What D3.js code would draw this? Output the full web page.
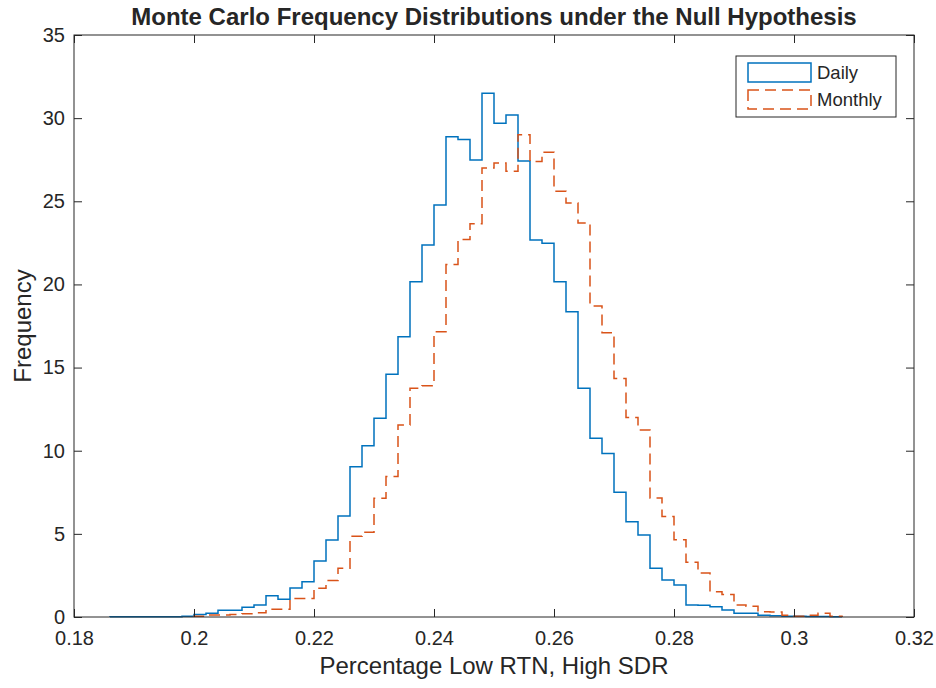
<html>
    <head>
        <script src="https://d3js.org/d3.v7.min.js"></script>
        <style>
            body { margin: 0; background: #fff; }
            text { font-family: "Liberation Sans", Arial, Helvetica, sans-serif; fill: #262626; }
        </style>
    </head>
    <body>
        <div id="svg-area"></div>
        <script>
            // histogram bins (width 0.002)
            const binWidth = 0.002;
            const dailyStart = 0.186;
            const dailyCounts = [0.02, 0.02, 0.02, 0.02, 0.02, 0.02, 0.05, 0.15, 0.22, 0.4,
                                 0.4, 0.58, 0.72, 1.28, 1.06, 1.75, 2.12, 3.37, 4.63, 6.07,
                                 9.04, 10.3, 11.95, 14.6, 16.86, 20.16, 22.37, 24.77, 28.88, 28.72,
                                 27.48, 31.49, 29.69, 30.19, 27.42, 22.67, 22.47, 20.16, 18.36, 13.75,
                                 10.75, 9.84, 7.5, 5.73, 4.93, 2.93, 2.22, 1.92, 0.72, 0.7,
                                 0.62, 0.42, 0.22, 0.22, 0.1, 0.08, 0.05, 0.05, 0.03, 0.03, 0.02];
            const monthlyStart = 0.200;
            const monthlyCounts = [0.05, 0.12, 0.12, 0.15, 0.2, 0.25, 0.46, 0.46, 1.12, 1.12,
                                   1.73, 2.2, 2.93, 4.85, 5.1, 7.14, 8.45, 11.55, 13.75, 13.9,
                                   17.16, 21.2, 22.7, 23.65, 27.0, 27.3, 26.8, 29.0, 27.4, 27.95,
                                   25.6, 24.9, 23.7, 18.7, 17.1, 14.35, 12.0, 11.25, 7.15, 6.05,
                                   4.65, 3.3, 2.65, 1.52, 1.35, 0.72, 0.65, 0.32, 0.3, 0.1,
                                   0.05, 0.1, 0.22, 0.05];

            const xTicks = [0.18, 0.2, 0.22, 0.24, 0.26, 0.28, 0.3, 0.32];
            const yTicks = [0, 5, 10, 15, 20, 25, 30, 35];
            const seriesNames = ['Daily', 'Monthly'];

            const svg = d3.select('#svg-area')
                            .append('svg')
                            .attr('width', 936)
                            .attr('height', 688);

            const margins = { top: 35, right: 22, bottom: 71, left: 74 };
            const chartWidth = 936 - margins.left - margins.right;
            const chartHeight = 688 - margins.top - margins.bottom;

            const chartArea = svg.append('g')
                    .attr('transform', `translate(${margins.left},${margins.top})`);

            const xScale = d3.scaleLinear().domain([0.18, 0.32]).range([0, chartWidth]);
            const yScale = d3.scaleLinear().domain([0, 35]).range([chartHeight, 0]);

            // stairs outline of a histogram
            function stairs(start, counts) {
                let pts = [[start, 0]];
                counts.forEach((c, i) => {
                    pts.push([start + i * binWidth, c]);
                    pts.push([start + (i + 1) * binWidth, c]);
                });
                pts.push([start + counts.length * binWidth, 0]);
                return d3.line()
                    .x(d => xScale(d[0]))
                    .y(d => yScale(d[1]))(pts);
            }

            chartArea.append('path')
                .attr('d', stairs(dailyStart, dailyCounts))
                .attr('fill', 'none')
                .attr('stroke', '#0072BD')
                .attr('stroke-width', 1.5);

            chartArea.append('path')
                .attr('d', stairs(monthlyStart, monthlyCounts))
                .attr('fill', 'none')
                .attr('stroke', '#D95319')
                .attr('stroke-width', 1.5)
                .attr('stroke-dasharray', '11,6');

            // axes, ticks pointing inward, box all round
            const axisColor = '#262626';
            const styleAxis = g => {
                g.selectAll('.domain').remove();
                g.selectAll('line').attr('stroke', axisColor);
                g.selectAll('text').style('font-size', '20px').attr('fill', axisColor);
            };

            chartArea.append('g')
                .attr('transform', `translate(0,${chartHeight})`)
                .call(d3.axisBottom(xScale).tickValues(xTicks).tickSizeInner(-8).tickSizeOuter(0)
                        .tickPadding(14).tickFormat(d3.format('')))
                .call(styleAxis);

            chartArea.append('g')
                .call(d3.axisTop(xScale).tickValues(xTicks).tickSizeInner(-8).tickSizeOuter(0).tickFormat(''))
                .call(styleAxis);

            chartArea.append('g')
                .call(d3.axisLeft(yScale).tickValues(yTicks).tickSizeInner(-8).tickSizeOuter(0).tickPadding(9))
                .call(styleAxis);

            chartArea.append('g')
                .attr('transform', `translate(${chartWidth},0)`)
                .call(d3.axisRight(yScale).tickValues(yTicks).tickSizeInner(-8).tickSizeOuter(0).tickFormat(''))
                .call(styleAxis);

            chartArea.append('rect')
                .attr('width', chartWidth)
                .attr('height', chartHeight)
                .attr('fill', 'none')
                .attr('stroke', axisColor)
                .attr('stroke-width', 1);

            // titles
            svg.append('text')
                .attr('x', margins.left + chartWidth / 2)
                .attr('y', 25)
                .attr('text-anchor', 'middle')
                .style('font-size', '24px')
                .style('font-weight', 'bold')
                .attr('fill', '#000')
                .text('Monte Carlo Frequency Distributions under the Null Hypothesis');

            svg.append('text')
                .attr('x', margins.left + chartWidth / 2)
                .attr('y', 674)
                .attr('text-anchor', 'middle')
                .style('font-size', '24px')
                .text('Percentage Low RTN, High SDR');

            svg.append('text')
                .attr('transform', `translate(31,${margins.top + chartHeight / 2}) rotate(-90)`)
                .attr('text-anchor', 'middle')
                .style('font-size', '24px')
                .text('Frequency');

            // legend
            const legend = svg.append('g').attr('transform', 'translate(736,56)');
            legend.append('rect')
                .attr('width', 160)
                .attr('height', 61)
                .attr('fill', '#fff')
                .attr('stroke', axisColor);

            seriesNames.forEach((name, i) => {
                const patch = legend.append('rect')
                    .attr('x', 12)
                    .attr('y', 7 + i * 27)
                    .attr('width', 63)
                    .attr('height', 19)
                    .attr('fill', '#fff')
                    .attr('stroke', i === 0 ? '#0072BD' : '#D95319')
                    .attr('stroke-width', 1.5);
                if (i === 1) patch.attr('stroke-dasharray', '11,6');
                legend.append('text')
                    .attr('x', 81)
                    .attr('y', 23 + i * 27)
                    .style('font-size', '18.5px')
                    .attr('fill', '#000')
                    .text(name);
            });
        </script>
    </body>
</html>
